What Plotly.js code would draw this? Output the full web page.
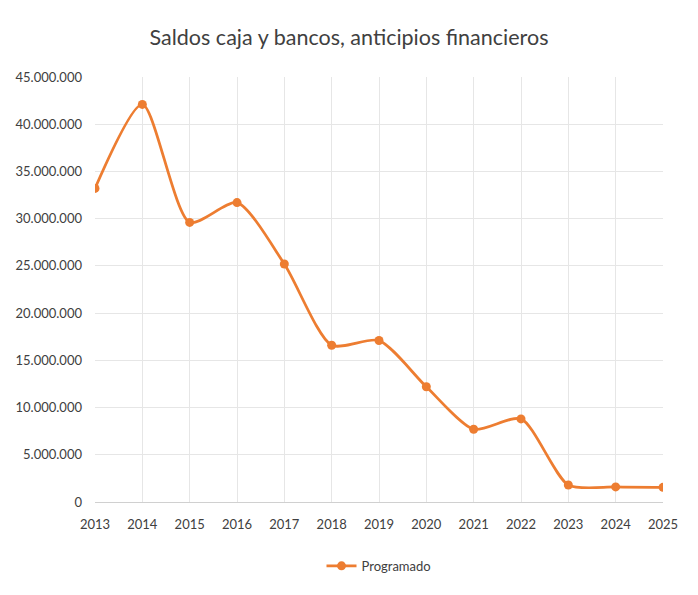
<!DOCTYPE html>
<html>
<head>
<meta charset="utf-8">
<script src="https://cdn.plot.ly/plotly-3.0.1.min.js"></script>
<style>html,body{margin:0;padding:0;background:#fff}#chart{width:698px;height:595px}</style>
</head>
<body>
<div id="chart"></div>
<script>
const years = ['2013','2014','2015','2016','2017','2018','2019','2020','2021','2022','2023','2024','2025'];
const programado = [33200000, 42100000, 29600000, 31700000, 25200000, 16600000, 17100000, 12200000, 7700000, 8800000, 1800000, 1600000, 1550000];
const yTicks = [0, 5000000, 10000000, 15000000, 20000000, 25000000, 30000000, 35000000, 40000000, 45000000];
const yTickText = ['0','5.000.000','10.000.000','15.000.000','20.000.000','25.000.000','30.000.000','35.000.000','40.000.000','45.000.000'];

const font = 'Lato, "Open Sans", sans-serif';
const traces = [
  {
    x: years, y: programado, type: 'scatter', mode: 'lines+markers', name: 'Programado',
    line: {color: '#ED7D31', width: 2.75, shape: 'spline', smoothing: 0.7},
    marker: {color: '#ED7D31', size: 9, symbol: 'circle'}
  }
];
const layout = {
  width: 698, height: 595,
  paper_bgcolor: '#ffffff', plot_bgcolor: '#ffffff',
  margin: {l: 95, r: 35, t: 77, b: 93},
  title: {text: 'Saldos caja y bancos, anticipios financieros', x: 0.5, xanchor: 'center', y: 0.937, yanchor: 'middle',
          font: {family: font, size: 21.5, color: '#404040'}},
  font: {family: font, color: '#404040'},
  xaxis: {
    type: 'category', range: [0, 12], showgrid: true, gridcolor: '#e6e6e6', gridwidth: 1,
    showline: true, linecolor: '#d0d0d0', linewidth: 1, zeroline: false,
    ticks: '', tickfont: {family: font, size: 13, color: '#404040'}, ticklabelstandoff: 10
  },
  yaxis: {
    range: [0, 45000000], tickvals: yTicks, ticktext: yTickText,
    showgrid: true, gridcolor: '#e6e6e6', gridwidth: 1, zeroline: false, showline: false,
    ticks: '', tickfont: {family: font, size: 13, color: '#404040'}, ticklabelstandoff: 12
  },
  showlegend: true,
  legend: {orientation: 'h', x: 0.5, xanchor: 'center', y: -0.115, yanchor: 'top',
           font: {family: font, size: 13, color: '#404040'}}
};
Plotly.newPlot('chart', traces, layout, {displayModeBar: false, staticPlot: true});
</script>
</body>
</html>
